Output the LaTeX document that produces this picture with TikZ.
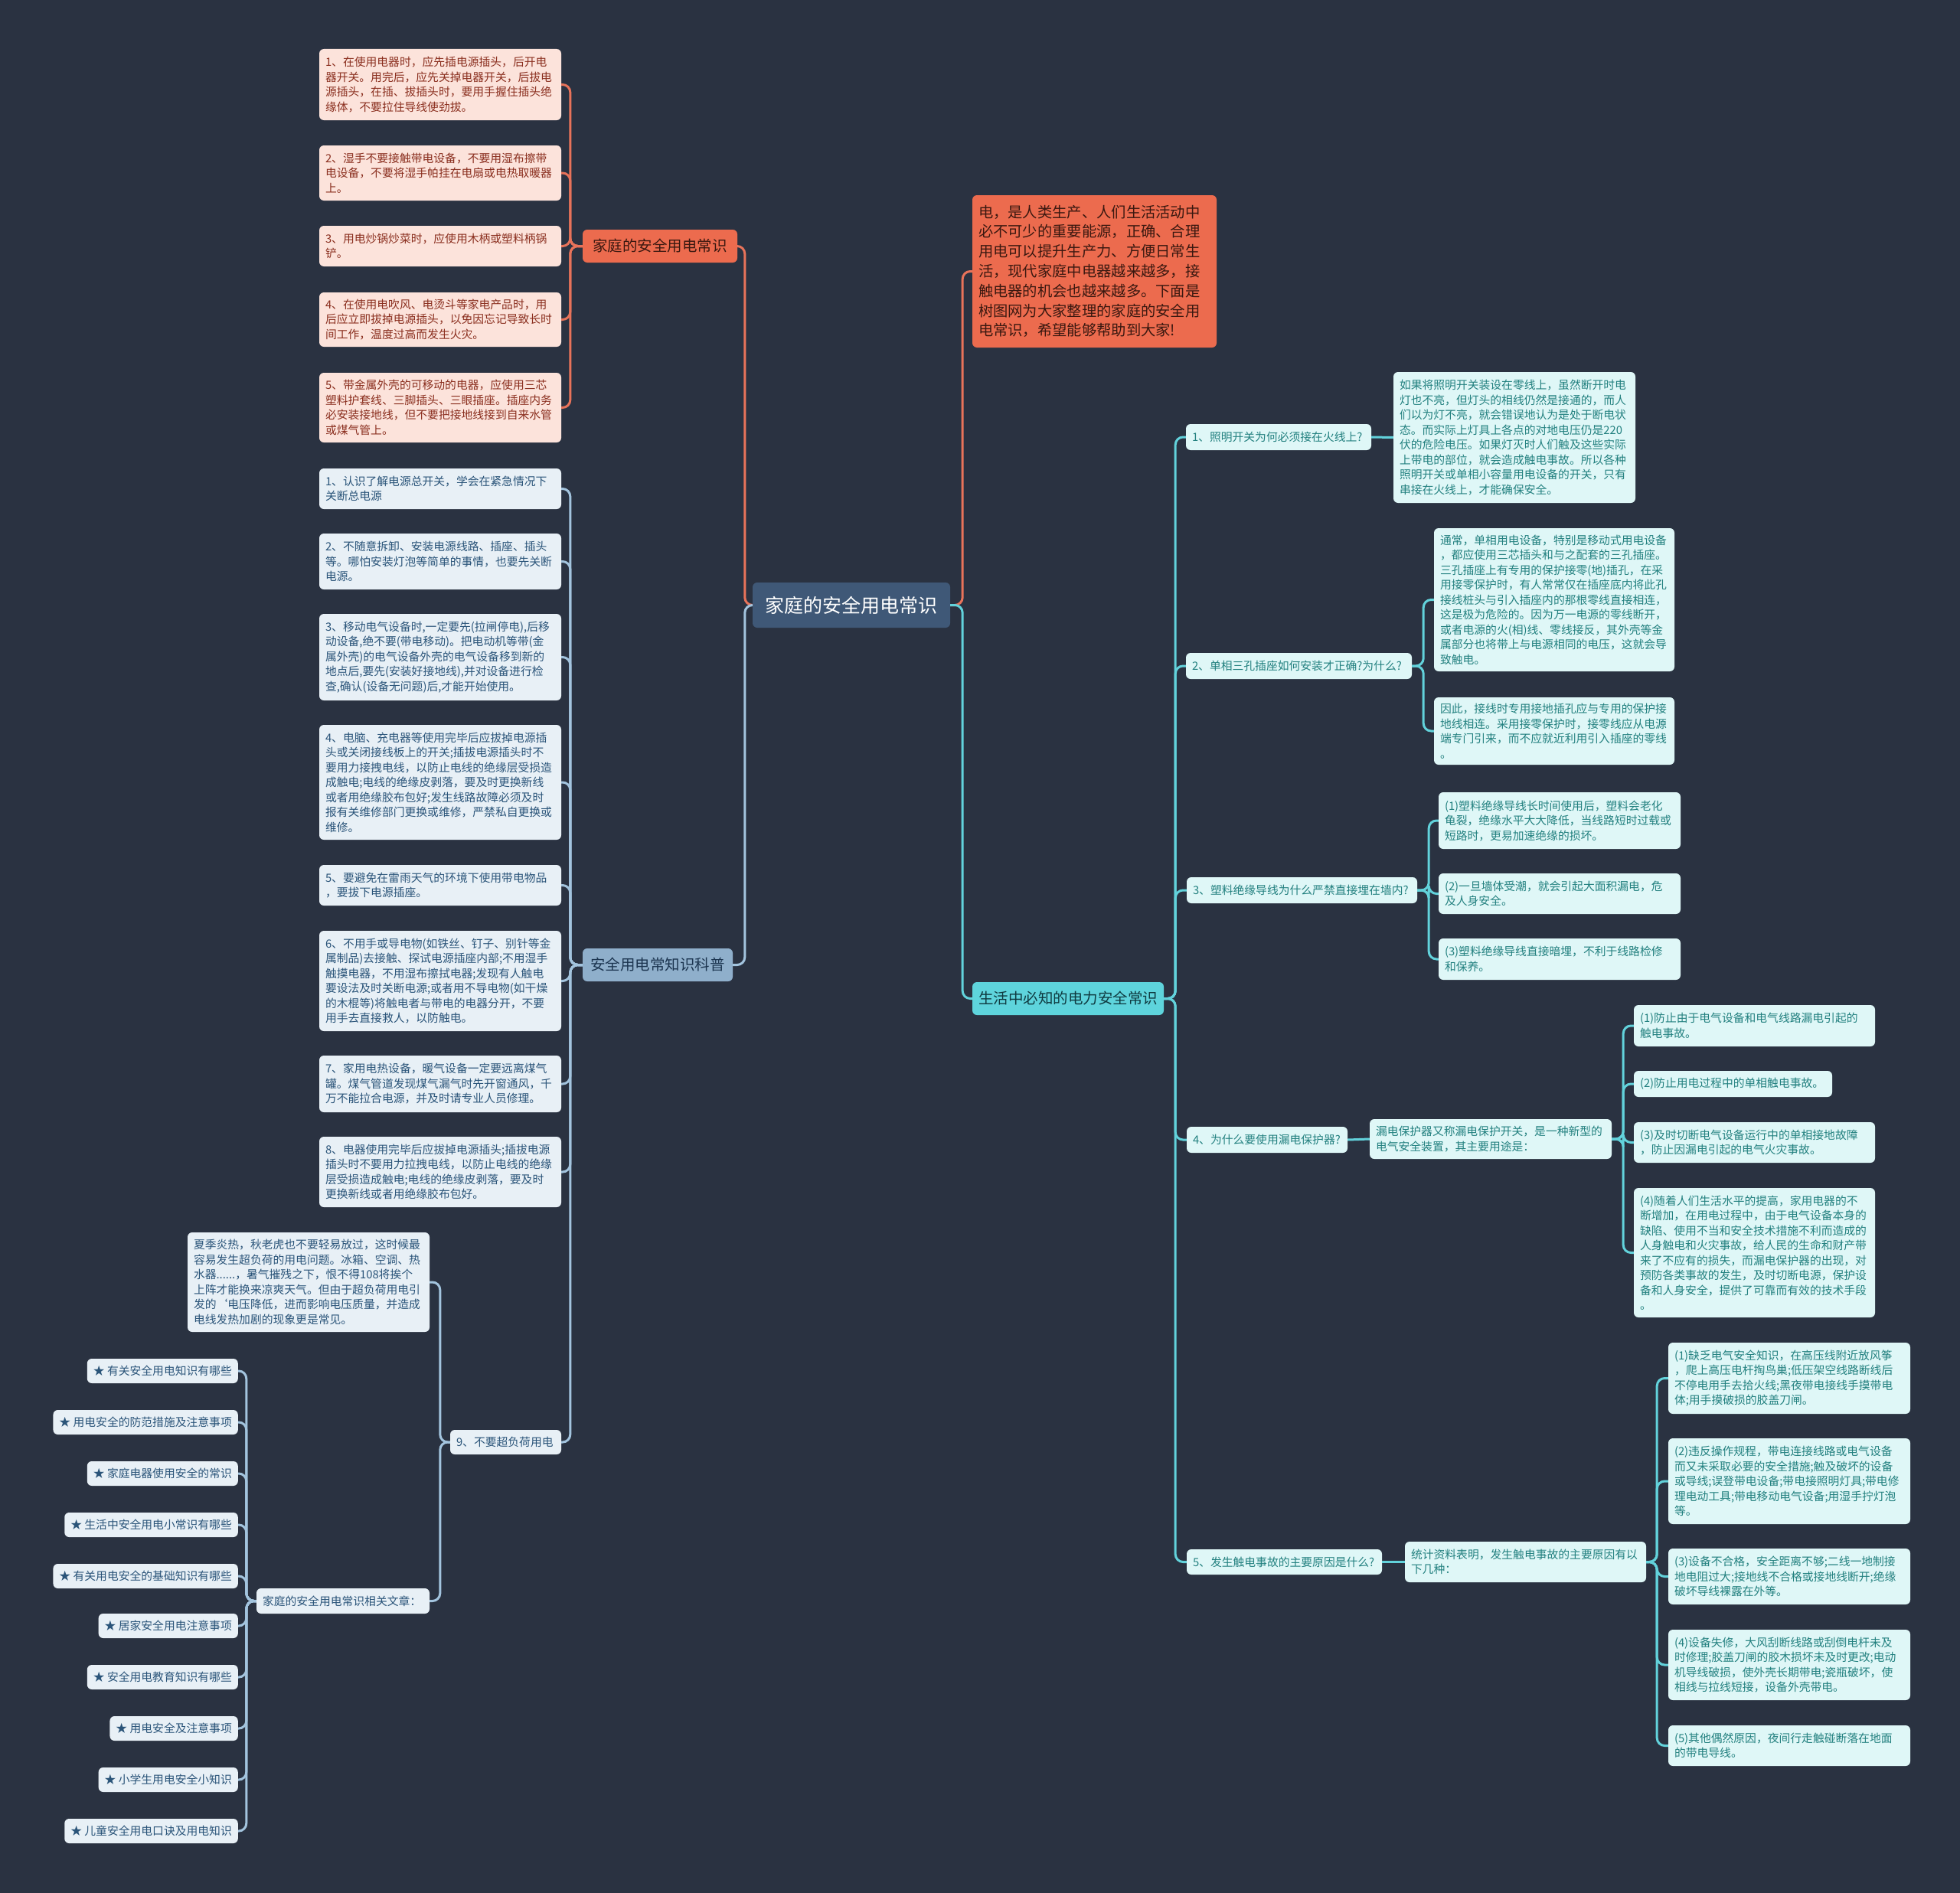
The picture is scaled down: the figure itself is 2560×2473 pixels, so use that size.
\documentclass[tikz,border=0pt]{standalone}
\usepackage{fontspec}
\setmainfont{Noto Sans CJK SC}
\definecolor{bgc}{HTML}{2A3241}
\definecolor{rootfill}{HTML}{3F5877}
\definecolor{orangefill}{HTML}{EC6B4E}
\definecolor{orangetext}{HTML}{3A1810}
\definecolor{pinkfill}{HTML}{FCE3DB}
\definecolor{pinktext}{HTML}{8A2E1E}
\definecolor{bluebr}{HTML}{8FAFCB}
\definecolor{bluebrtext}{HTML}{1C3550}
\definecolor{bluefill}{HTML}{E8F0F6}
\definecolor{bluetext}{HTML}{2A5479}
\definecolor{cyanbr}{HTML}{5ED4DC}
\definecolor{cyanbrtext}{HTML}{0F3A40}
\definecolor{cyanfill}{HTML}{DFF7F7}
\definecolor{cyantext}{HTML}{22807F}
\definecolor{lineorange}{HTML}{E8735A}
\definecolor{lineblue}{HTML}{A3C4DE}
\definecolor{linecyan}{HTML}{62D2DB}
\tikzset{
  conn/.style={line width=3, rounded corners=10},
  oline/.style={conn, draw=lineorange},
  bline/.style={conn, draw=lineblue},
  cline/.style={conn, draw=linecyan},
  base/.style={rounded corners=6, inner xsep=8, inner ysep=4, align=left, font=\fontsize{14.8}{19.5}\selectfont, anchor=center},
  pinkleaf/.style={base, fill=pinkfill, text=pinktext},
  blueleaf/.style={base, fill=bluefill, text=bluetext},
  cyanleaf/.style={base, fill=cyanfill, text=cyantext},
  rootst/.style={base, align=center, fill=rootfill, text=white, font=\fontsize{25}{30}\selectfont},
  orangebr/.style={base, align=center, fill=orangefill, text=orangetext, font=\fontsize{19.5}{24}\selectfont},
  introst/.style={base, fill=orangefill, text=orangetext, font=\fontsize{19.3}{25.8}\selectfont},
  bluebrst/.style={base, align=center, fill=bluebr, text=bluebrtext, font=\fontsize{19.5}{24}\selectfont},
  cyanbrst/.style={base, align=center, fill=cyanbr, text=cyanbrtext, font=\fontsize{19.5}{24}\selectfont},
}
\newcommand\mmnode[7]{%
  \pgfmathsetmacro\mmcx{(#3+#5)/2}%
  \pgfmathsetmacro\mmcy{(#4+#6)/2}%
  \pgfmathsetmacro\mmw{#5-#3}%
  \pgfmathsetmacro\mmh{#6-#4}%
  \pgfmathsetmacro\mmtw{#5-#3-16}%
  \node[#2, minimum width=\mmw pt, minimum height=\mmh pt, text width=\mmtw pt] (#1) at (\mmcx,\mmcy) {#7};}
\begin{document}
\begin{tikzpicture}[x=1pt,y=-1pt]
\useasboundingbox (0,0) rectangle (2560,2473);
\fill[bgc] (0,0) rectangle (2560,2473);

% root and main branches
\mmnode{root}{rootst}{983}{761}{1241}{820}{家庭的安全用电常识}
\mmnode{b1}{orangebr}{761}{300}{963}{343}{家庭的安全用电常识}
\mmnode{b2}{bluebrst}{761}{1239}{957}{1282}{安全用电常知识科普}
\mmnode{intro}{introst}{1270}{255}{1589}{454}{电，是人类生产、人们生活活动中\\必不可少的重要能源，正确、合理\\用电可以提升生产力、方便日常生\\活，现代家庭中电器越来越多，接\\触电器的机会也越来越多。下面是\\树图网为大家整理的家庭的安全用\\电常识，希望能够帮助到大家!}
\mmnode{b4}{cyanbrst}{1270}{1283}{1520}{1326}{生活中必知的电力安全常识}

% branch 1 leaves
\mmnode{l1}{pinkleaf}{417}{64}{733}{157}{1、在使用电器时，应先插电源插头，后开电\\器开关。用完后，应先关掉电器开关，后拔电\\源插头，在插、拔插头时，要用手握住插头绝\\缘体，不要拉住导线使劲拔。}
\mmnode{l2}{pinkleaf}{417}{190}{733}{262}{2、湿手不要接触带电设备，不要用湿布擦带\\电设备，不要将湿手帕挂在电扇或电热取暖器\\上。}
\mmnode{l3}{pinkleaf}{417}{295}{733}{348}{3、用电炒锅炒菜时，应使用木柄或塑料柄锅\\铲。}
\mmnode{l4}{pinkleaf}{417}{382}{733}{453}{4、在使用电吹风、电烫斗等家电产品时，用\\后应立即拔掉电源插头，以免因忘记导致长时\\间工作，温度过高而发生火灾。}
\mmnode{l5}{pinkleaf}{417}{487}{733}{578}{5、带金属外壳的可移动的电器，应使用三芯\\塑料护套线、三脚插头、三眼插座。插座内务\\必安装接地线，但不要把接地线接到自来水管\\或煤气管上。}

% branch 2 leaves
\mmnode{s1}{blueleaf}{417}{612}{733}{665}{1、认识了解电源总开关，学会在紧急情况下\\关断总电源}
\mmnode{s2}{blueleaf}{417}{697}{733}{770}{2、不随意拆卸、安装电源线路、插座、插头\\等。哪怕安装灯泡等简单的事情，也要先关断\\电源。}
\mmnode{s3}{blueleaf}{417}{802}{733}{915}{3、移动电气设备时,一定要先(拉闸停电),后移\\动设备,绝不要(带电移动)。把电动机等带(金\\属外壳)的电气设备外壳的电气设备移到新的\\地点后,要先(安装好接地线),并对设备进行检\\查,确认(设备无问题)后,才能开始使用。}
\mmnode{s4}{blueleaf}{417}{947}{733}{1097}{4、电脑、充电器等使用完毕后应拔掉电源插\\头或关闭接线板上的开关;插拔电源插头时不\\要用力接拽电线，以防止电线的绝缘层受损造\\成触电;电线的绝缘皮剥落，要及时更换新线\\或者用绝缘胶布包好;发生线路故障必须及时\\报有关维修部门更换或维修，严禁私自更换或\\维修。}
\mmnode{s5}{blueleaf}{417}{1130}{733}{1183}{5、要避免在雷雨天气的环境下使用带电物品\\，要拔下电源插座。}
\mmnode{s6}{blueleaf}{417}{1216}{733}{1347}{6、不用手或导电物(如铁丝、钉子、别针等金\\属制品)去接触、探试电源插座内部;不用湿手\\触摸电器，不用湿布擦拭电器;发现有人触电\\要设法及时关断电源;或者用不导电物(如干燥\\的木棍等)将触电者与带电的电器分开，不要\\用手去直接救人，以防触电。}
\mmnode{s7}{blueleaf}{417}{1379}{733}{1453}{7、家用电热设备，暖气设备一定要远离煤气\\罐。煤气管道发现煤气漏气时先开窗通风，千\\万不能拉合电源，并及时请专业人员修理。}
\mmnode{s8}{blueleaf}{417}{1485}{733}{1577}{8、电器使用完毕后应拔掉电源插头;插拔电源\\插头时不要用力拉拽电线，以防止电线的绝缘\\层受损造成触电;电线的绝缘皮剥落，要及时\\更换新线或者用绝缘胶布包好。}
\mmnode{s9}{blueleaf}{588}{1868}{733}{1900}{9、不要超负荷用电}
\mmnode{summer}{blueleaf}{245}{1610}{561}{1740}{夏季炎热，秋老虎也不要轻易放过，这时候最\\容易发生超负荷的用电问题。冰箱、空调、热\\水器......，暑气摧残之下，恨不得108将挨个\\上阵才能换来凉爽天气。但由于超负荷用电引\\发的\symbol{96}电压降低，进而影响电压质量，并造成\\电线发热加剧的现象更是常见。}
\mmnode{rel}{blueleaf}{335}{2075}{561}{2108}{家庭的安全用电常识相关文章：}

\node[blueleaf, anchor=east, minimum height=32] (r1) at (311,1791) {★ 有关安全用电知识有哪些};
\node[blueleaf, anchor=east, minimum height=32] (r2) at (311,1858) {★ 用电安全的防范措施及注意事项};
\node[blueleaf, anchor=east, minimum height=32] (r3) at (311,1925) {★ 家庭电器使用安全的常识};
\node[blueleaf, anchor=east, minimum height=32] (r4) at (311,1992) {★ 生活中安全用电小常识有哪些};
\node[blueleaf, anchor=east, minimum height=32] (r5) at (311,2059) {★ 有关用电安全的基础知识有哪些};
\node[blueleaf, anchor=east, minimum height=32] (r6) at (311,2124) {★ 居家安全用电注意事项};
\node[blueleaf, anchor=east, minimum height=32] (r7) at (311,2191) {★ 安全用电教育知识有哪些};
\node[blueleaf, anchor=east, minimum height=32] (r8) at (311,2258) {★ 用电安全及注意事项};
\node[blueleaf, anchor=east, minimum height=32] (r9) at (311,2325) {★ 小学生用电安全小知识};
\node[blueleaf, anchor=east, minimum height=32] (r10) at (311,2392) {★ 儿童安全用电口诀及用电知识};

% right side
\mmnode{q1}{cyanleaf}{1549}{554}{1791}{588}{1、照明开关为何必须接在火线上?}
\mmnode{a1}{cyanleaf}{1820}{486}{2136}{657}{如果将照明开关装设在零线上，虽然断开时电\\灯也不亮，但灯头的相线仍然是接通的，而人\\们以为灯不亮，就会错误地认为是处于断电状\\态。而实际上灯具上各点的对地电压仍是220\\伏的危险电压。如果灯灭时人们触及这些实际\\上带电的部位，就会造成触电事故。所以各种\\照明开关或单相小容量用电设备的开关，只有\\串接在火线上，才能确保安全。}
\mmnode{q2}{cyanleaf}{1549}{853}{1844}{887}{2、单相三孔插座如何安装才正确?为什么?}
\mmnode{a2a}{cyanleaf}{1873}{690}{2187}{877}{通常，单相用电设备，特别是移动式用电设备\\，都应使用三芯插头和与之配套的三孔插座。\\三孔插座上有专用的保护接零(地)插孔，在采\\用接零保护时，有人常常仅在插座底内将此孔\\接线桩头与引入插座内的那根零线直接相连，\\这是极为危险的。因为万一电源的零线断开，\\或者电源的火(相)线、零线接反，其外壳等金\\属部分也将带上与电源相同的电压，这就会导\\致触电。}
\mmnode{a2b}{cyanleaf}{1873}{911}{2187}{999}{因此，接线时专用接地插孔应与专用的保护接\\地线相连。采用接零保护时，接零线应从电源\\端专门引来，而不应就近利用引入插座的零线\\。}
\mmnode{q3}{cyanleaf}{1550}{1146}{1851}{1180}{3、塑料绝缘导线为什么严禁直接埋在墙内?}
\mmnode{a3a}{cyanleaf}{1879}{1035}{2195}{1109}{(1)塑料绝缘导线长时间使用后，塑料会老化\\龟裂，绝缘水平大大降低，当线路短时过载或\\短路时，更易加速绝缘的损坏。}
\mmnode{a3b}{cyanleaf}{1879}{1141}{2195}{1194}{(2)一旦墙体受潮，就会引起大面积漏电，危\\及人身安全。}
\mmnode{a3c}{cyanleaf}{1879}{1226}{2195}{1280}{(3)塑料绝缘导线直接暗埋，不利于线路检修\\和保养。}
\mmnode{q4}{cyanleaf}{1550}{1472}{1760}{1506}{4、为什么要使用漏电保护器?}
\mmnode{m4}{cyanleaf}{1789}{1462}{2105}{1514}{漏电保护器又称漏电保护开关，是一种新型的\\电气安全装置，其主要用途是：}
\mmnode{a4a}{cyanleaf}{2134}{1313}{2449}{1367}{(1)防止由于电气设备和电气线路漏电引起的\\触电事故。}
\mmnode{a4b}{cyanleaf}{2134}{1399}{2393}{1433}{(2)防止用电过程中的单相触电事故。}
\mmnode{a4c}{cyanleaf}{2134}{1466}{2449}{1519}{(3)及时切断电气设备运行中的单相接地故障\\，防止因漏电引起的电气火灾事故。}
\mmnode{a4d}{cyanleaf}{2134}{1552}{2449}{1721}{(4)随着人们生活水平的提高，家用电器的不\\断增加，在用电过程中，由于电气设备本身的\\缺陷、使用不当和安全技术措施不利而造成的\\人身触电和火灾事故，给人民的生命和财产带\\来了不应有的损失，而漏电保护器的出现，对\\预防各类事故的发生，及时切断电源，保护设\\备和人身安全，提供了可靠而有效的技术手段\\。}
\mmnode{q5}{cyanleaf}{1550}{2024}{1805}{2057}{5、发生触电事故的主要原因是什么?}
\mmnode{m5}{cyanleaf}{1835}{2014}{2150}{2067}{统计资料表明，发生触电事故的主要原因有以\\下几种：}
\mmnode{a5a}{cyanleaf}{2179}{1754}{2495}{1847}{(1)缺乏电气安全知识，在高压线附近放风筝\\，爬上高压电杆掏鸟巢;低压架空线路断线后\\不停电用手去拾火线;黑夜带电接线手摸带电\\体;用手摸破损的胶盖刀闸。}
\mmnode{a5b}{cyanleaf}{2179}{1879}{2495}{1991}{(2)违反操作规程，带电连接线路或电气设备\\而又未采取必要的安全措施;触及破坏的设备\\或导线;误登带电设备;带电接照明灯具;带电修\\理电动工具;带电移动电气设备;用湿手拧灯泡\\等。}
\mmnode{a5c}{cyanleaf}{2179}{2023}{2495}{2096}{(3)设备不合格，安全距离不够;二线一地制接\\地电阻过大;接地线不合格或接地线断开;绝缘\\破坏导线裸露在外等。}
\mmnode{a5d}{cyanleaf}{2179}{2129}{2495}{2221}{(4)设备失修，大风刮断线路或刮倒电杆未及\\时修理;胶盖刀闸的胶木损坏未及时更改;电动\\机导线破损，使外壳长期带电;瓷瓶破坏，使\\相线与拉线短接，设备外壳带电。}
\mmnode{a5e}{cyanleaf}{2179}{2254}{2495}{2307}{(5)其他偶然原因，夜间行走触碰断落在地面\\的带电导线。}

% connectors
\draw[oline] (root.west) -- ++(-10,0) |- (b1.east);
\draw[bline] (root.west) -- ++(-10,0) |- (b2.east);
\draw[oline] (root.east) -- ++(16,0) |- (intro.west);
\draw[cline] (root.east) -- ++(16,0) |- (b4.west);
\foreach \c in {l1,l2,l3,l4,l5} \draw[oline] (b1.west) -- ++(-16,0) |- (\c.east);
\foreach \c in {s1,s2,s3,s4,s5,s6,s7,s8,s9} \draw[bline] (b2.west) -- ++(-16,0) |- (\c.east);
\foreach \c in {summer,rel} \draw[bline] (s9.west) -- ++(-13,0) |- (\c.east);
\foreach \c in {r1,r2,r3,r4,r5,r6,r7,r8,r9,r10} \draw[bline] (rel.west) -- ++(-13,0) |- (\c.east);
\foreach \c in {q1,q2,q3,q4,q5} \draw[cline] (b4.east) -- ++(15,0) |- (\c.west);
\draw[cline] (q1.east) -- (a1.west);
\foreach \c in {a2a,a2b} \draw[cline] (q2.east) -- ++(15,0) |- (\c.west);
\foreach \c in {a3a,a3b,a3c} \draw[cline] (q3.east) -- ++(15,0) |- (\c.west);
\draw[cline] (q4.east) -- (m4.west);
\foreach \c in {a4a,a4b,a4c,a4d} \draw[cline] (m4.east) -- ++(15,0) |- (\c.west);
\draw[cline] (q5.east) -- (m5.west);
\foreach \c in {a5a,a5b,a5c,a5d,a5e} \draw[cline] (m5.east) -- ++(14,0) |- (\c.west);
\end{tikzpicture}
\end{document}
